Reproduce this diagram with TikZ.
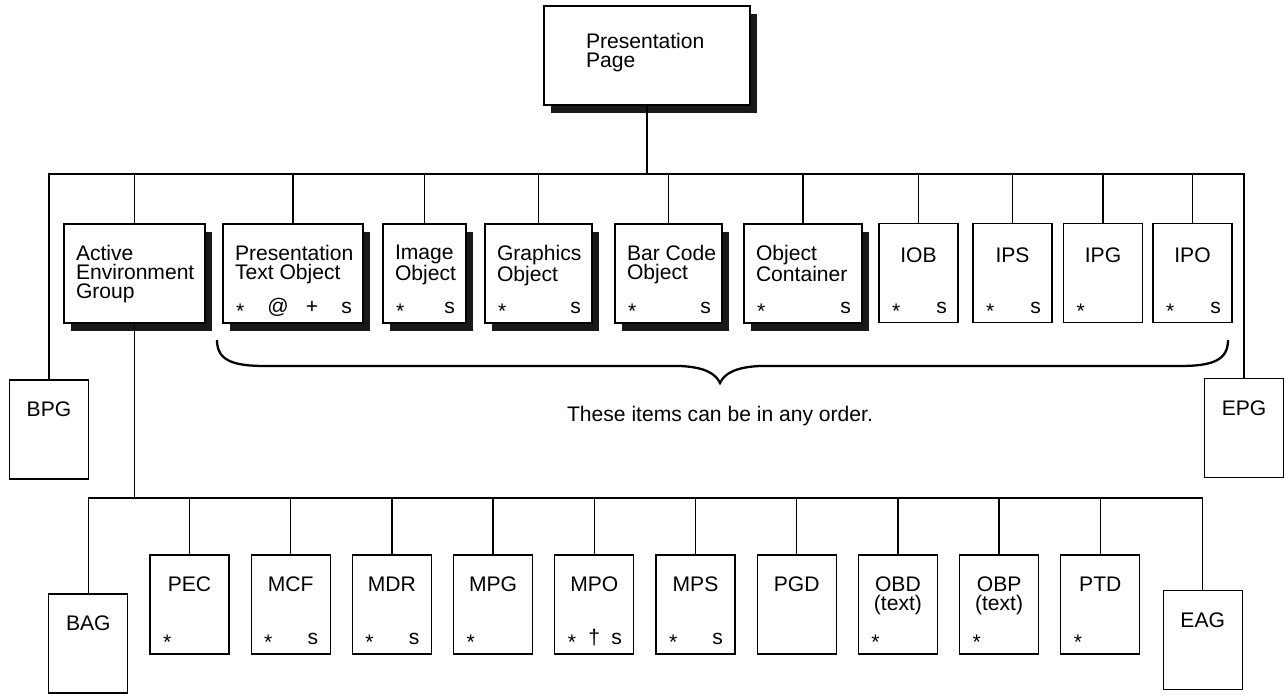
\documentclass[tikz,border=0pt]{standalone}
\usepackage{fontspec}
\setmainfont{Liberation Sans}
\usetikzlibrary{positioning,shadows}
\newlength{\pxu}
\setlength{\pxu}{0.02cm}
\newcommand{\boxstar}{\raisebox{-3pt}{*}}

\begin{document}
\begin{tikzpicture}[x=0.02cm,y=-0.02cm,line width=0.7pt,
	font=\fontsize{12}{10.8}\selectfont,
	box/.style={draw,fill=white,inner sep=0pt,minimum width=79\pxu,minimum height=99\pxu},
	shad/.style={box,drop shadow={shadow xshift=7\pxu,shadow yshift=-8\pxu,fill=black!90,opacity=1}},
	txt/.style={inner sep=0pt,align=left},
	boxtag/.style={inner sep=0pt,align=center,anchor=north},
	sym/.style={inner sep=0pt,anchor=base west}]
	\useasboundingbox (0,0) rectangle (1284,694);

	\node[shad,minimum width=206\pxu] (page) at (647,55.5) {};
	\node[txt,below right=27\pxu and 42\pxu of page.north west] (pagetxt) {Presentation\\Page};

	\foreach \nm/\cx/\w in {aeg/134.5/141,pto/293/140,img/424.5/83,gra/538.5/107,bar/668.5/107,occ/803/118}
		\node[shad,minimum width=\w\pxu] (\nm) at (\cx,273.5) {};
	\foreach \nm/\cx in {iob/918.5,ips/1012.5,ipg/1103,ipo/1192.5}
		\node[box] (\nm) at (\cx,273) {};
	\node[box] (bpg) at (49,429.5) {};
	\node[box] (epg) at (1244,428) {};

	\foreach \nm/\lbl in {aeg/{Active\\Environment\\Group},pto/{Presentation\\Text Object},img/{Image\\Object},gra/{Graphics\\Object},bar/{Bar Code\\Object},occ/{Object\\Container}}
		\node[txt,below right=21\pxu and 12\pxu of \nm.north west] (\nm txt) {\lbl};
	\foreach \nm/\lbl in {iob/IOB,ips/IPS,ipg/IPG,ipo/IPO}
		\node[boxtag,below=24\pxu of \nm.north] (\nm txt) {\lbl};
	\node[boxtag,below=22\pxu of bpg.north] (bpgtxt) {BPG};
	\node[boxtag,below=22\pxu of epg.north] (epgtxt) {EPG};

	\foreach \nm in {pto,img,gra,bar,occ,iob,ips,ipg,ipo}
		\node[sym] (\nm st) at ([shift={(13,-10)}]\nm.south west) {\boxstar};
	\foreach \nm in {pto,img,gra,bar,occ,iob,ips,ipo}
		\node[sym,anchor=base east] (\nm s) at ([shift={(-11,-10)}]\nm.south east) {s};
	\node[sym,anchor=base] (ptoat) at ([shift={(-15,-10)}]pto.south) {@};
	\node[sym,anchor=base] (ptoplus) at ([shift={(19,-10)}]pto.south) {+};

	\draw[line width=1.3pt] (217,340) .. controls (217,360) and (232,366) .. (265,366) -- (680,366)
		.. controls (705,367) and (716,374) .. (720,383) .. controls (724,374) and (735,367) .. (760,366)
		-- (1180,366) .. controls (1213,366) and (1228,360) .. (1228,340);
	\node[anchor=base] (order) at (720,421) {These items can be in any order.};

	\node[box] (bag) at (88.3,643.5) {};
	\node[box] (eag) at (1202.7,640) {};
	\foreach \nm/\lbl/\i in {pec/PEC/1,mcf/MCF/2,mdr/MDR/3,mpg/MPG/4,mpo/MPO/5,mps/MPS/6,pgd/PGD/7,obd/{OBD\\(text)}/8,obp/{OBP\\(text)}/9,ptd/PTD/10}
		\node[box] (\nm) at (88.3+101.2*\i,604.5) {};
	\foreach \nm/\lbl in {bag/BAG,pec/PEC,mcf/MCF,mdr/MDR,mpg/MPG,mpo/MPO,mps/MPS,pgd/PGD,obd/{OBD\\(text)},obp/{OBP\\(text)},ptd/PTD,eag/EAG}
		\node[boxtag,below=22\pxu of \nm.north] (\nm txt) {\lbl};
	\foreach \nm in {pec,mcf,mdr,mpg,mpo,mps,obd,obp,ptd}
		\node[sym] (\nm st) at ([shift={(13,-10)}]\nm.south west) {\boxstar};
	\foreach \nm in {mcf,mdr,mpo,mps}
		\node[sym,anchor=base east] (\nm s) at ([shift={(-12,-10)}]\nm.south east) {s};
	\node[sym,anchor=base] (mpodag) at ([shift={(0,-10)}]mpo.south) {\textdagger};

	\coordinate (topbus) at (647,174);
	\coordinate (lowbus) at (137,498);
	\draw (page.south) -- (topbus);
	\draw (bpg.north) -- (bpg.north |- topbus) -- (epg.north |- topbus) -- (epg.north);
	\foreach \nm in {aeg,pto,img,gra,bar,occ,iob,ips,ipg,ipo}
		\draw (\nm.north) -- (\nm.north |- topbus);
	\draw (aeg.south) -- (aeg.south |- lowbus);
	\draw (bag.north) -- (bag.north |- lowbus) -- (eag.north |- lowbus) -- (eag.north);
	\foreach \nm in {pec,mcf,mdr,mpg,mpo,mps,pgd,obd,obp,ptd}
		\draw (\nm.north) -- (\nm.north |- lowbus);
\end{tikzpicture}
\end{document}
